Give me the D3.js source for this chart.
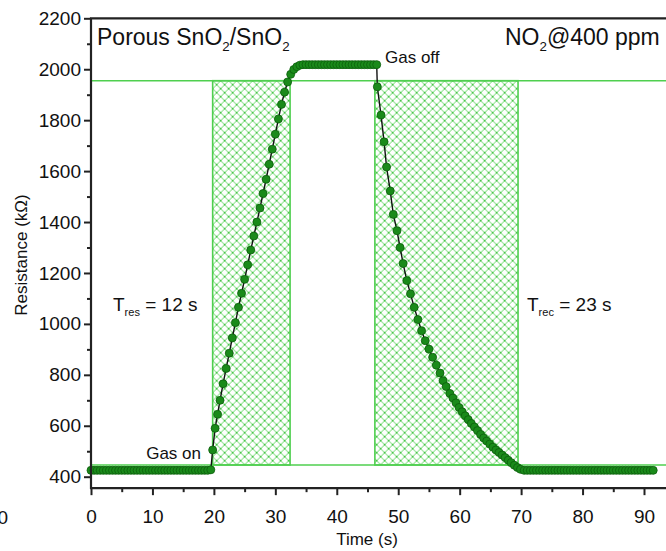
<!DOCTYPE html>
<html>
<head>
<meta charset="utf-8">
<script src="https://cdn.jsdelivr.net/npm/d3@7"></script>
<style>
  body { margin: 0; background: #fff; }
  svg { display: block; font-family: "Liberation Sans", Arial, Helvetica, sans-serif; }
</style>
</head>
<body>
<svg id="chart" width="666" height="551"></svg>
<script>
// --- data ---
// baseline before gas on
var tBefore = [0, 0.5, 1, 1.5, 2, 2.5, 3, 3.5, 4, 4.5, 5, 5.5, 6, 6.5, 7, 7.5, 8, 8.5, 9, 9.5,
               10, 10.5, 11, 11.5, 12, 12.5, 13, 13.5, 14, 14.5, 15, 15.5, 16, 16.5, 17, 17.5, 18, 18.5, 19, 19.5];
var rBefore = [425, 425, 425, 425, 425, 425, 425, 425, 425, 425, 425, 425, 425, 425, 425, 425, 425, 425, 425, 425,
               425, 425, 425, 425, 425, 425, 425, 425, 425, 425, 425, 425, 425, 425, 425, 425, 425, 425, 425, 427];
// response (gas on)
var tRise = [19.8, 20.2, 20.6, 21.0, 21.5, 22.0, 22.5, 23.0, 23.5, 24.0, 24.5, 25.0, 25.5, 26.0, 26.5, 27.0,
             27.5, 28.0, 28.5, 29.0, 29.5, 30.0, 30.5, 31.0, 31.5, 32.0, 32.5, 33.0, 33.5, 34.0, 34.5];
var rRise = [505, 590, 645, 700, 765, 825, 885, 945, 1005, 1065, 1120, 1175, 1232, 1290, 1345, 1400,
             1455, 1512, 1568, 1627, 1686, 1745, 1805, 1862, 1910, 1950, 1980, 1999, 2010, 2016, 2018];
// saturated
var tPlateau = [35, 35.5, 36, 36.5, 37, 37.5, 38, 38.5, 39, 39.5, 40, 40.5,
                41, 41.5, 42, 42.5, 43, 43.5, 44, 44.5, 45, 45.5, 46, 46.5];
var rPlateau = [2018, 2018, 2018, 2018, 2018, 2018, 2018, 2018, 2018, 2018, 2018, 2018,
                2018, 2018, 2018, 2018, 2018, 2018, 2018, 2018, 2018, 2018, 2018, 2018];
// recovery (gas off)
var tDecay = [46.6, 47.2, 47.7, 48.1, 48.7, 49.2, 49.8, 50.3, 50.8, 51.4, 52.0, 52.6, 53.2, 53.8, 54.4,
              55.0, 55.6, 56.2, 56.8, 57.3, 57.8, 58.4, 58.9, 59.4, 59.9, 60.4, 60.9, 61.4, 61.9, 62.4,
              62.9, 63.4, 63.9, 64.4, 64.9, 65.4, 65.9, 66.4, 66.9, 67.4, 67.9, 68.4, 68.9, 69.4, 69.9];
var rDecay = [1931, 1820, 1715, 1616, 1522, 1430, 1366, 1300, 1237, 1170, 1118, 1065, 1017, 973, 934,
              901, 869, 838, 807, 777, 754, 727, 709, 690, 672, 655, 639, 624, 609, 595,
              581, 566, 552, 540, 528, 516, 505, 495, 485, 475, 465, 455, 445, 436, 429];
// baseline after recovery
var tAfter = [70.5, 71, 71.5, 72, 72.5, 73, 73.5, 74, 74.5, 75, 75.5, 76, 76.5, 77, 77.5, 78, 78.5, 79, 79.5, 80,
              80.5, 81, 81.5, 82, 82.5, 83, 83.5, 84, 84.5, 85, 85.5, 86, 86.5, 87, 87.5, 88, 88.5, 89, 89.5, 90,
              90.5, 91, 91.5];
var rAfter = [425, 425, 425, 425, 425, 425, 425, 425, 425, 425, 425, 425, 425, 425, 425, 425, 425, 425, 425, 425,
              425, 425, 425, 425, 425, 425, 425, 425, 425, 425, 425, 425, 425, 425, 425, 425, 425, 425, 425, 425,
              425, 425, 425];

// response / recovery windows and the 10%/90% guide levels
var windowStart = [19.8, 46.2];
var windowEnd = [32.4, 69.5];
var guideLevels = [446, 1955];

var xTicks = [0, 10, 20, 30, 40, 50, 60, 70, 80, 90];
var xMinor = [5, 15, 25, 35, 45, 55, 65, 75, 85, 95];
var yTicks = [400, 600, 800, 1000, 1200, 1400, 1600, 1800, 2000, 2200];
var yMinor = [500, 700, 900, 1100, 1300, 1500, 1700, 1900, 2100];

var times = tBefore.concat(tRise, tPlateau, tDecay, tAfter);
var values = rBefore.concat(rRise, rPlateau, rDecay, rAfter);
var points = times.map(function(t, i){ return {t: t, r: values[i]}; });

// --- layout ---
var svg = d3.select('#chart');
var W = 666;
var x = d3.scaleLinear().domain([0, 90]).range([91, 644]);
var y = d3.scaleLinear().domain([400, 2200]).range([476.7, 18.3]);
var yBottom = y(355);

var green = '#4fcf4f';

// hatch pattern
var defs = svg.append('defs');
var pat = defs.append('pattern')
    .attr('id', 'hatch')
    .attr('patternUnits', 'userSpaceOnUse')
    .attr('x', x(windowStart[0]))
    .attr('y', y(guideLevels[1]))
    .attr('width', 8)
    .attr('height', 8);
pat.append('path')
    .attr('d', 'M-1,-1 L9,9 M9,-1 L-1,9')
    .attr('stroke', '#62d862')
    .attr('stroke-width', 1)
    .attr('fill', 'none');
[[4, 4], [0, 0], [8, 0], [0, 8], [8, 8]].forEach(function(c){
    pat.append('circle').attr('cx', c[0]).attr('cy', c[1]).attr('r', 0.7).attr('fill', '#20a820');
});

// hatched windows
svg.selectAll('rect.win')
    .data(windowStart)
    .enter()
    .append('rect')
    .attr('class', 'win')
    .attr('x', function(d){ return x(d); })
    .attr('y', y(guideLevels[1]))
    .attr('width', function(d, i){ return x(windowEnd[i]) - x(d); })
    .attr('height', y(guideLevels[0]) - y(guideLevels[1]))
    .attr('fill', 'url(#hatch)')
    .attr('stroke', green)
    .attr('stroke-width', 1.6);

// guide lines
svg.selectAll('line.guide')
    .data(guideLevels)
    .enter()
    .append('line')
    .attr('class', 'guide')
    .attr('x1', x(0))
    .attr('x2', W)
    .attr('y1', function(d){ return y(d); })
    .attr('y2', function(d){ return y(d); })
    .attr('stroke', green)
    .attr('stroke-width', 1.6);

// data line + markers
var line = d3.line()
    .x(function(d){ return x(d.t); })
    .y(function(d){ return y(d.r); });

svg.append('path')
    .datum(points)
    .attr('d', line)
    .attr('fill', 'none')
    .attr('stroke', '#111')
    .attr('stroke-width', 1.4);

svg.selectAll('circle.pt')
    .data(points)
    .enter()
    .append('circle')
    .attr('class', 'pt')
    .attr('cx', function(d){ return x(d.t); })
    .attr('cy', function(d){ return y(d.r); })
    .attr('r', 4)
    .attr('fill', '#1a8a1a')
    .attr('stroke', '#0b5e0b')
    .attr('stroke-width', 0.8);

// axes
svg.append('g')
    .attr('transform', 'translate(' + x(0) + ',0)')
    .call(d3.axisLeft(y).tickValues(yTicks).tickSize(7).tickPadding(3).tickFormat(d3.format('d')));
svg.append('g')
    .attr('transform', 'translate(' + x(0) + ',0)')
    .call(d3.axisLeft(y).tickValues(yMinor).tickSize(4).tickFormat(''));

svg.append('g')
    .attr('transform', 'translate(0,' + yBottom + ')')
    .call(d3.axisBottom(x).tickValues(xTicks).tickSize(7).tickPadding(14).tickFormat(d3.format('d')));
svg.append('g')
    .attr('transform', 'translate(0,' + yBottom + ')')
    .call(d3.axisBottom(x).tickValues(xMinor).tickSize(4).tickFormat(''));

svg.selectAll('.domain').remove();
svg.selectAll('.tick line').attr('stroke', '#222').attr('stroke-width', 2);
svg.selectAll('.tick text')
    .attr('font-size', 19)
    .attr('font-family', '"Liberation Sans", Arial, sans-serif')
    .attr('fill', '#111');

// frame
svg.append('path')
    .attr('d', 'M' + W + ',' + y(2200) + ' L' + x(0) + ',' + y(2200) + ' L' + x(0) + ',' + yBottom + ' L' + W + ',' + yBottom)
    .attr('fill', 'none')
    .attr('stroke', '#222')
    .attr('stroke-width', 2.2);

// stray tick label from the neighbouring panel
svg.append('text')
    .attr('x', 8)
    .attr('y', 524)
    .attr('text-anchor', 'end')
    .attr('font-size', 19)
    .attr('fill', '#111')
    .text('0');

// axis titles
svg.append('text')
    .attr('x', 367)
    .attr('y', 545)
    .attr('text-anchor', 'middle')
    .attr('font-size', 17)
    .attr('fill', '#111')
    .text('Time (s)');

svg.append('text')
    .attr('transform', 'translate(27,255) rotate(-90)')
    .attr('text-anchor', 'middle')
    .attr('font-size', 17)
    .attr('fill', '#111')
    .text('Resistance (k\u03A9)');

// annotations
function subText(xp, yp, size, parts){
    var t = svg.append('text')
        .attr('x', xp)
        .attr('y', yp)
        .attr('font-size', size)
        .attr('fill', '#111');
    parts.forEach(function(p){
        var s = t.append('tspan').text(p.text);
        if(p.sub){
            s.attr('font-size', size * 0.58).attr('dy', size * 0.28);
        } else if(p.after){
            s.attr('dy', -size * 0.28);
        }
    });
    return t;
}

subText(97, 45, 23, [{text: 'Porous SnO'}, {text: '2', sub: true}, {text: '/SnO', after: true}, {text: '2', sub: true}]);
subText(505, 45, 23, [{text: 'NO'}, {text: '2', sub: true}, {text: '@400 ppm', after: true}]);
subText(113, 311, 19, [{text: 'T'}, {text: 'res', sub: true}, {text: ' = 12 s', after: true}]);
subText(527, 311, 19, [{text: 'T'}, {text: 'rec', sub: true}, {text: ' = 23 s', after: true}]);

svg.append('text').attr('x', 385).attr('y', 63).attr('font-size', 17).attr('fill', '#111').text('Gas off');
svg.append('text').attr('x', 201).attr('y', 459).attr('text-anchor', 'end').attr('font-size', 17).attr('fill', '#111').text('Gas on');
</script>
</body>
</html>
